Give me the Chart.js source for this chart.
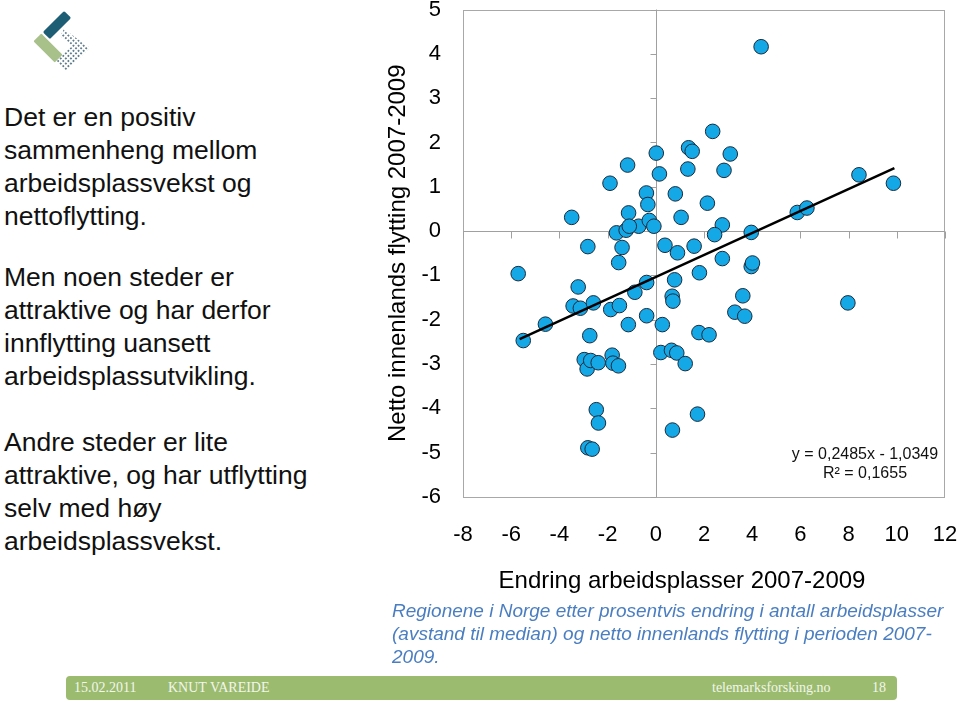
<!DOCTYPE html>
<html>
<head>
<meta charset="utf-8">
<script src="https://cdn.jsdelivr.net/npm/chart.js@4.4.1/dist/chart.umd.min.js"></script>
<style>
  html, body { margin:0; padding:0; background:#fff; }
  body { width:960px; height:702px; position:relative; overflow:hidden; font-family:"Liberation Sans", Arial, sans-serif; }
  .lead { position:absolute; left:4px; font-size:26.5px; line-height:33px; color:#111; margin:0; }
  #chartWrap { position:absolute; left:370px; top:-35px; width:615px; height:635px; }
  #xtitle { position:absolute; left:482px; top:566px; width:400px; text-align:center; font-size:24px; line-height:28px; color:#000; white-space:nowrap; }
  #eq { position:absolute; left:785px; top:444px; width:160px; text-align:center; font-size:16px; line-height:19px; color:#111; }
  #note { position:absolute; left:392px; top:599px; font-size:19px; line-height:23px; font-style:italic; color:#4A7EC1; white-space:nowrap; }
  #footer { position:absolute; left:66px; top:676px; width:831px; height:24px; background:#9BBB6E; border-radius:4px; font-family:"Liberation Serif", "DejaVu Serif", serif; font-size:14px; color:#F2F6EC; }
  #footer span { position:absolute; top:4px; line-height:16px; white-space:nowrap; }
</style>
</head>
<body>
<svg style="position:absolute;left:20px;top:5px" width="80" height="70" viewBox="0 0 80 70">
  <defs>
    <pattern id="dots" width="3.6" height="3.6" patternUnits="userSpaceOnUse" patternTransform="rotate(45)">
      <circle cx="1.8" cy="1.8" r="0.9" fill="#2C5366"/>
    </pattern>
  </defs>
  <rect x="-15" y="-5" width="30" height="10" rx="1.5" fill="#1E5E75" transform="translate(37,20) rotate(-45)"/>
  <rect x="-15" y="-5.5" width="30" height="11" rx="1" fill="#A8C08A" transform="translate(28,43) rotate(45)"/>
  <polygon points="44,24 70,43 46,66 36,56 52,41 40,31" fill="url(#dots)"/>
</svg>

<p class="lead" style="top:101px">Det er en positiv<br>sammenheng mellom<br>arbeidsplassvekst og<br>nettoflytting.</p>
<p class="lead" style="top:261px">Men noen steder er<br>attraktive og har derfor<br>innflytting uansett<br>arbeidsplassutvikling.</p>
<p class="lead" style="top:426px">Andre steder er lite<br>attraktive, og har utflytting<br>selv med høy<br>arbeidsplassvekst.</p>

<div id="chartWrap"><canvas id="c" width="615" height="635"></canvas></div>

<div id="xtitle"></div>

<div id="eq">y = 0,2485x - 1,0349<br>R² = 0,1655</div>

<div id="note">Regionene i Norge etter prosentvis endring i antall arbeidsplasser<br>(avstand til median) og netto innenlands flytting i perioden 2007-<br>2009.</div>

<div id="footer">
  <span style="left:8px">15.02.2011</span>
  <span style="left:102px">KNUT VAREIDE</span>
  <span style="left:646px">telemarksforsking.no</span>
  <span style="left:806px">18</span>
</div>

<script>
// Change in jobs 2007-2009 (distance to median, %) per region
const jobChange = [
  -3.49, 4.37, 2.36, 1.36, 1.51, 3.09, 0.02, -1.17, 1.33, 2.83,
  0.15, -1.90, 8.43, 9.86, -0.39, 0.81, -0.33, 2.14, 5.87, 6.27,
  -1.13, 1.05, 2.76, -0.71, -0.27, -0.08, -1.63, -1.23, -1.10, 2.44,
  3.96, -2.82, -1.40, 0.38, 0.90, 1.59, -5.71, -5.50, -4.58, -1.54,
  -3.22, -3.43, -3.13, -2.59, -1.87, -1.51, -0.87, -0.38, -1.14, -0.38,
  -2.74, -2.97, -2.85, -2.70, -2.39, -1.81, -1.78, -1.55, -2.47, -2.38,
  -2.82, -2.64, 2.76, 1.81, 0.78, 0.68, 0.71, 0.27, 0.21, 0.65,
  0.87, 1.22, 1.79, 2.21, 1.73, 0.69, 3.28, 3.69, 3.61, 3.96,
  4.01, 7.97
];
// Net domestic migration 2007-2009 (%) per region
const netMigration = [
  0.31, 4.16, 2.25, 1.88, 1.80, 1.74, 1.76, 1.49, 1.40, 1.37,
  1.29, 1.08, 1.27, 1.08, 0.86, 0.84, 0.60, 0.63, 0.42, 0.52,
  0.41, 0.31, 0.14, 0.11, 0.24, 0.11, -0.04, 0.02, 0.11, -0.08,
  -0.03, -0.35, -0.37, -0.32, -0.49, -0.34, -0.96, -2.47, -2.10, -0.71,
  -1.26, -1.69, -1.74, -1.62, -1.77, -1.68, -1.38, -1.16, -2.11, -1.91,
  -2.36, -2.90, -3.11, -2.92, -2.97, -2.80, -2.98, -3.04, -4.03, -4.33,
  -4.89, -4.92, -0.62, -0.94, -1.10, -1.47, -1.58, -2.11, -2.74, -2.69,
  -2.75, -2.99, -2.29, -2.34, -4.13, -4.49, -1.83, -1.92, -1.46, -0.80,
  -0.72, -1.62
];
// Linear trend line end points (as drawn)
const trendX = [-5.65, 9.9];
const trendY = [-2.44, 1.42];

const xTitle = 'Endring arbeidsplasser 2007-2009';
const yTitle = 'Netto innenlands flytting 2007-2009';

document.getElementById('xtitle').textContent = xTitle;

const scatterPoints = jobChange.map((v, i) => ({ x: v, y: netMigration[i] }));
const trendPoints = trendX.map((v, i) => ({ x: v, y: trendY[i] }));

const frameAndZero = {
  id: 'frameAndZero',
  beforeDatasetsDraw(chart) {
    const { ctx, chartArea: a, scales: { x, y } } = chart;
    ctx.save();
    ctx.lineWidth = 1;
    ctx.strokeStyle = '#A8A8A8';
    ctx.strokeRect(Math.round(a.left) + 0.5, Math.round(a.top) + 0.5,
                   Math.round(a.right - a.left) - 1, Math.round(a.bottom - a.top) - 1);
    const x0 = Math.round(x.getPixelForValue(0)) + 0.5;
    const y0 = Math.round(y.getPixelForValue(0)) + 0.5;
    ctx.strokeStyle = '#A0A0A0';
    ctx.beginPath();
    ctx.moveTo(x0, a.top); ctx.lineTo(x0, a.bottom);
    ctx.moveTo(a.left, y0); ctx.lineTo(a.right, y0);
    y.ticks.forEach(t => {
      const py = Math.round(y.getPixelForValue(t.value)) + 0.5;
      ctx.moveTo(x0 - 6, py); ctx.lineTo(x0, py);
    });
    x.ticks.forEach(t => {
      const px = Math.round(x.getPixelForValue(t.value)) + 0.5;
      ctx.moveTo(px, y0); ctx.lineTo(px, y0 + 7);
    });
    ctx.stroke();
    ctx.restore();
  }
};

const FONT = "'Liberation Sans', Arial, sans-serif";

new Chart(document.getElementById('c'), {
  type: 'scatter',
  data: {
    datasets: [
      {
        type: 'line',
        data: trendPoints,
        borderColor: '#000',
        borderWidth: 2.5,
        pointRadius: 0,
        fill: false,
        order: 0
      },
      {
        data: scatterPoints,
        backgroundColor: '#14A8E6',
        borderColor: '#1B2B3C',
        borderWidth: 1,
        pointRadius: 7.3,
        pointHoverRadius: 7.3,
        order: 1
      }
    ]
  },
  options: {
    responsive: false,
    animation: false,
    events: [],
    layout: { padding: { top: 44.5, right: 40, bottom: 0, left: 0 } },
    plugins: { legend: { display: false }, tooltip: { enabled: false } },
    scales: {
      x: {
        type: 'linear',
        min: -8, max: 12,
        grid: { display: false, drawTicks: false },
        border: { display: false },
        ticks: { stepSize: 2, padding: 25, color: '#000', font: { family: FONT, size: 22 }, maxRotation: 0 },
        title: { display: false },
        afterFit(s) { s.height = 103; }
      },
      y: {
        type: 'linear',
        min: -6, max: 5,
        grid: { display: false, drawTicks: false },
        border: { display: false },
        ticks: { stepSize: 1, padding: 22, color: '#000', font: { family: FONT, size: 22 } },
        title: { display: true, text: yTitle, color: '#000', font: { family: FONT, size: 24 }, padding: { top: 13.6, bottom: 0 } },
        afterFit(s) { s.width = 93; }
      }
    }
  },
  plugins: [frameAndZero]
});
</script>
</body>
</html>
